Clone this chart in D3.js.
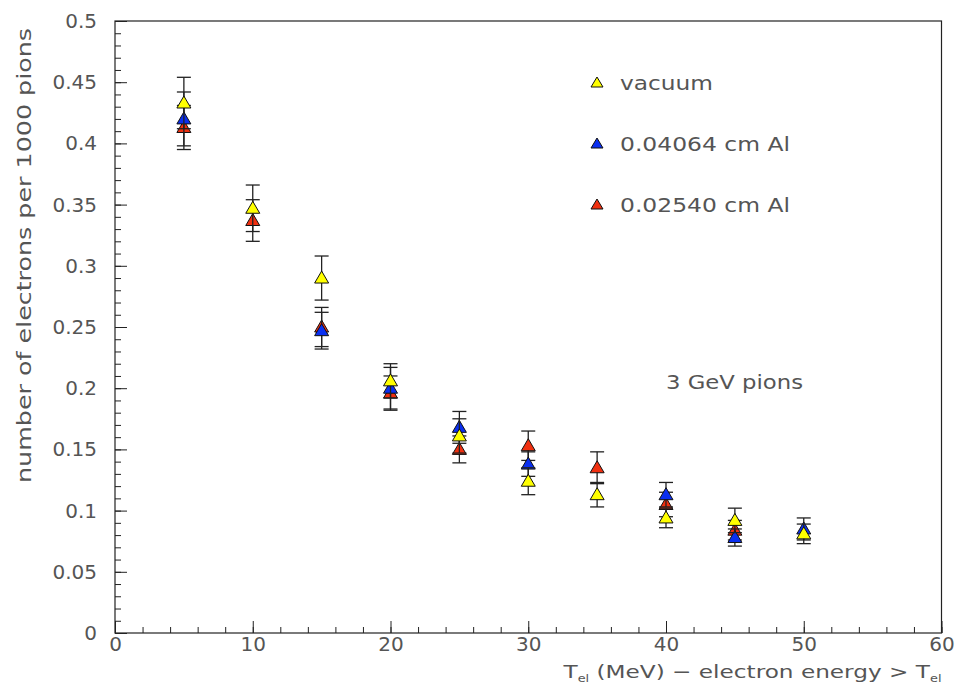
<!DOCTYPE html>
<html>
<head>
<meta charset="utf-8">
<script src="https://cdn.jsdelivr.net/npm/d3@7"></script>
<style>
  body { margin: 0; background: #fff; }
  text { font-family: "DejaVu Sans", "Liberation Sans", sans-serif; fill: #555; }
</style>
</head>
<body>
<div id="chart"></div>
<script>
// energy thresholds (MeV)
var energies = [5, 10, 15, 20, 25, 30, 35, 40, 45, 50];

// electrons per 1000 pions, with errors
var vacuum    = [0.433, 0.347, 0.290, 0.206, 0.161, 0.124, 0.113, 0.094, 0.092, 0.081];
var vacuumErr = [0.021, 0.019, 0.018, 0.014, 0.014, 0.011, 0.010, 0.008, 0.010, 0.008];
var al04064    = [0.420, null, 0.247, 0.200, 0.168, 0.138, null, 0.113, 0.078, 0.085];
var al04064Err = [0.022, null, 0.015, 0.017, 0.013, 0.010, null, 0.010, 0.007, 0.009];
var al02540    = [0.413, 0.337, 0.250, 0.196, 0.150, 0.153, 0.135, 0.105, 0.084, null];
var al02540Err = [0.018, 0.017, 0.016, 0.014, 0.011, 0.012, 0.013, 0.010, 0.008, null];

var seriesNames = ["vacuum", "0.04064 cm Al", "0.02540 cm Al"];
var seriesColors = ["#ffff00", "#0a2ff0", "#f03010"];

var xTicks = [0, 10, 20, 30, 40, 50, 60];
var yTicks = [0, 0.05, 0.1, 0.15, 0.2, 0.25, 0.3, 0.35, 0.4, 0.45, 0.5];

var width = 958, height = 690;
var margin = {top: 21, right: 16, bottom: 57, left: 115};

var svg = d3.select("#chart").append("svg")
  .attr("width", width)
  .attr("height", height);

var x = d3.scaleLinear().domain([0, 60]).range([margin.left, width - margin.right - 0.5]);
var y = d3.scaleLinear().domain([0, 0.5]).range([height - margin.bottom, margin.top]);

// frame
svg.append("rect")
  .attr("x", x(0)).attr("y", y(0.5))
  .attr("width", x(60) - x(0)).attr("height", y(0) - y(0.5))
  .attr("fill", "none").attr("stroke", "#222").attr("stroke-width", 1.2);

// minor ticks
svg.append("g")
  .attr("transform", "translate(" + x(0) + ",0)")
  .call(d3.axisLeft(y).tickValues(d3.range(0, 0.5001, 0.01)).tickSize(-6).tickFormat(""))
  .call(function(g) { g.select(".domain").remove(); g.selectAll("line").attr("stroke", "#222"); });
svg.append("g")
  .attr("transform", "translate(0," + y(0) + ")")
  .call(d3.axisBottom(x).tickValues(d3.range(0, 60.001, 2)).tickSize(-6).tickFormat(""))
  .call(function(g) { g.select(".domain").remove(); g.selectAll("line").attr("stroke", "#222"); });

// major ticks + labels
svg.append("g")
  .attr("transform", "translate(" + x(0) + ",0)")
  .call(d3.axisLeft(y).tickValues(yTicks).tickSize(-12).tickPadding(18).tickFormat(function(d) { return d3.format("")(+d.toFixed(2)); }))
  .call(function(g) {
    g.select(".domain").remove();
    g.selectAll("line").attr("stroke", "#222");
    g.selectAll("text").attr("font-size", 20).attr("font-family", null).style("fill", "#555");
  });
svg.append("g")
  .attr("transform", "translate(0," + y(0) + ")")
  .call(d3.axisBottom(x).tickValues(xTicks).tickSize(-12).tickPadding(4).tickFormat(d3.format("d")))
  .call(function(g) {
    g.select(".domain").remove();
    g.selectAll("line").attr("stroke", "#222");
    g.selectAll("text").attr("font-size", 20).attr("font-family", null).style("fill", "#555");
  });

// axis titles
svg.append("text")
  .attr("transform", "translate(31," + 28 + ") rotate(-90)")
  .attr("text-anchor", "end")
  .attr("font-size", 19)
  .attr("textLength", 455).attr("lengthAdjust", "spacingAndGlyphs")
  .text("number of electrons per 1000 pions");

var xt = svg.append("text")
  .attr("x", x(60)).attr("y", 678)
  .attr("text-anchor", "end")
  .attr("font-size", 18)
  .attr("textLength", 378).attr("lengthAdjust", "spacingAndGlyphs");
xt.append("tspan").text("T");
xt.append("tspan").attr("font-size", 10).attr("dy", 4).text("el");
xt.append("tspan").attr("dy", -4).text(" (MeV) \u2212 electron energy > T");
xt.append("tspan").attr("font-size", 10).attr("dy", 4).text("el");

// data
var triangle = "M0,-7L7,5L-7,5Z";
var allSeries = [
  {vals: al02540, errs: al02540Err, color: seriesColors[2]},
  {vals: al04064, errs: al04064Err, color: seriesColors[1]},
  {vals: vacuum, errs: vacuumErr, color: seriesColors[0]}
];

allSeries.forEach(function(s) {
  var pts = energies.map(function(e, i) { return {x: e, v: s.vals[i], err: s.errs[i]}; })
    .filter(function(d) { return d.v != null; });
  var g = svg.append("g");
  var eb = g.selectAll(".eb").data(pts).enter().append("g").attr("stroke", "#222").attr("stroke-width", 1.3);
  eb.append("line")
    .attr("x1", function(d) { return x(d.x); }).attr("x2", function(d) { return x(d.x); })
    .attr("y1", function(d) { return y(d.v + d.err); }).attr("y2", function(d) { return y(d.v - d.err); });
  eb.append("line")
    .attr("x1", function(d) { return x(d.x) - 7; }).attr("x2", function(d) { return x(d.x) + 7; })
    .attr("y1", function(d) { return y(d.v + d.err); }).attr("y2", function(d) { return y(d.v + d.err); });
  eb.append("line")
    .attr("x1", function(d) { return x(d.x) - 7; }).attr("x2", function(d) { return x(d.x) + 7; })
    .attr("y1", function(d) { return y(d.v - d.err); }).attr("y2", function(d) { return y(d.v - d.err); });
  g.selectAll(".pt").data(pts).enter().append("path")
    .attr("d", triangle)
    .attr("transform", function(d) { return "translate(" + x(d.x) + "," + y(d.v) + ")"; })
    .attr("fill", s.color).attr("stroke", "#111").attr("stroke-width", 1);
});

// legend
var legendWidths = [93, 170, 170];
var legend = svg.append("g");
seriesNames.forEach(function(name, i) {
  var ly = 83 + i * 61;
  legend.append("path").attr("d", "M0,-6L6,4L-6,4Z")
    .attr("transform", "translate(597," + ly + ")")
    .attr("fill", seriesColors[i]).attr("stroke", "#111").attr("stroke-width", 1);
  legend.append("text").attr("x", 620).attr("y", ly + 7).attr("font-size", 20)
    .attr("textLength", legendWidths[i]).attr("lengthAdjust", "spacingAndGlyphs").text(name);
});

svg.append("text").attr("x", 666).attr("y", 389).attr("font-size", 20)
  .attr("textLength", 137).attr("lengthAdjust", "spacingAndGlyphs").text("3 GeV pions");
</script>
</body>
</html>
